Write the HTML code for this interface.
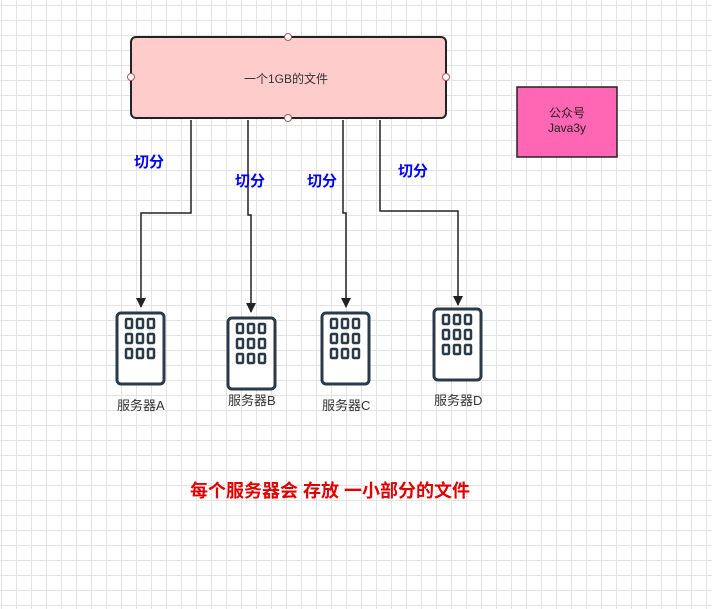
<!DOCTYPE html><html><head><style>
body{margin:0;width:712px;height:609px;overflow:hidden;background:#fff;
background-image:linear-gradient(#e4e4e4 1px,transparent 1px),linear-gradient(90deg,#e4e4e4 1px,transparent 1px);
background-size:15px 15px;background-position:1px 5px;font-family:"Liberation Sans","Noto Sans CJK SC",sans-serif}
.t{position:absolute;white-space:nowrap}
</style></head><body>
<svg width="712" height="609" style="position:absolute;left:0;top:0">
<defs><marker id="a" markerWidth="10" markerHeight="10" refX="5" refY="9" markerUnits="userSpaceOnUse"><path d="M0,0 L10,0 L5,10z" fill="#222"/></marker>
<g id="s"><rect x="1" y="1" width="47" height="71" rx="4" fill="#fff" stroke="#2b3a48" stroke-width="3"/>
<g fill="none" stroke="#2b3a48" stroke-width="2.5">
<rect x="10" y="7" width="6" height="9" rx="1"/><rect x="21" y="7" width="6" height="9" rx="1"/><rect x="32" y="7" width="6" height="9" rx="1"/>
<rect x="10" y="22" width="6" height="9" rx="1"/><rect x="21" y="22" width="6" height="9" rx="1"/><rect x="32" y="22" width="6" height="9" rx="1"/>
<rect x="10" y="37" width="6" height="9" rx="1"/><rect x="21" y="37" width="6" height="9" rx="1"/><rect x="32" y="37" width="6" height="9" rx="1"/></g></g></defs>
<rect x="131" y="37" width="315" height="81" rx="5" fill="#ffcccc" stroke="#222" stroke-width="2"/>
<g fill="#fff" stroke="#b85450"><circle cx="288" cy="37" r="3.5"/><circle cx="288" cy="118" r="3.5"/><circle cx="131" cy="77" r="3.5"/><circle cx="446" cy="77" r="3.5"/></g>
<rect x="517" y="87" width="100" height="70" fill="#ff66b3" stroke="#222" stroke-width="1.5"/>
<g fill="none" stroke="#222" stroke-width="1.5" marker-end="url(#a)">
<path d="M191,120 V213 H141 V307"/>
<path d="M248,120 V215 H251 V312"/>
<path d="M343,120 V213 H346 V307"/>
<path d="M380,120 V211 H458 V305"/>
</g>
<use href="#s" x="116" y="312"/><use href="#s" x="227" y="317"/><use href="#s" x="321" y="312"/><use href="#s" x="433" y="308"/>
</svg>
<div class="t" style="left:244px;top:70px;font-size:12px;color:#333">一个1GB的文件</div>
<div class="t" style="left:517px;top:106px;width:100px;text-align:center;font-size:12px;line-height:15px;color:#222">公众号<br>Java3y</div>
<div class="t" style="left:134px;top:151px;font-size:15px;font-weight:bold;color:#0000ff">切分</div>
<div class="t" style="left:235px;top:170px;font-size:15px;font-weight:bold;color:#0000ff">切分</div>
<div class="t" style="left:307px;top:170px;font-size:15px;font-weight:bold;color:#0000ff">切分</div>
<div class="t" style="left:398px;top:160px;font-size:15px;font-weight:bold;color:#0000ff">切分</div>
<div class="t" style="left:117px;top:395px;font-size:13px;color:#333">服务器A</div>
<div class="t" style="left:228px;top:390px;font-size:13px;color:#333">服务器B</div>
<div class="t" style="left:322px;top:395px;font-size:13px;color:#333">服务器C</div>
<div class="t" style="left:434px;top:390px;font-size:13px;color:#333">服务器D</div>
<div class="t" style="left:190px;top:477px;font-size:18px;font-weight:bold;color:#e00000">每个服务器会 存放 一小部分的文件</div>
</body></html>
